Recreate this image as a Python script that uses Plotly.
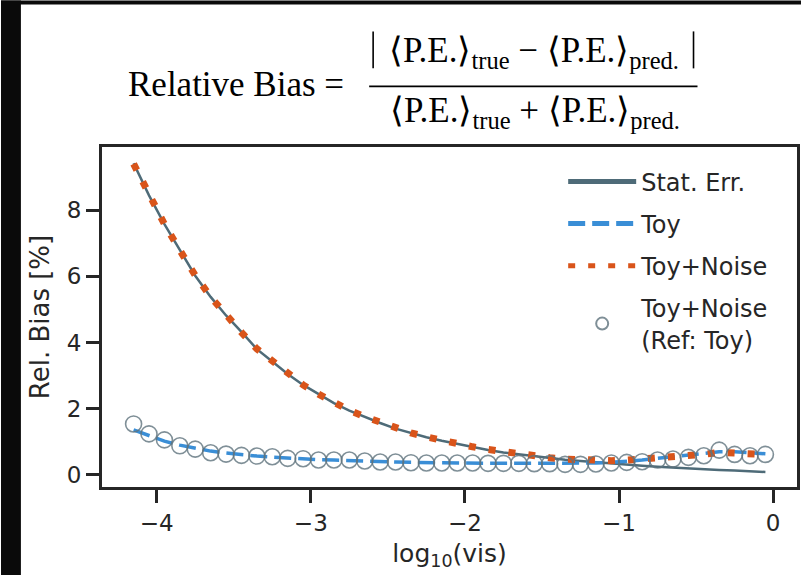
import plotly.graph_objects as go

# log10(visibility) grid shared by all series
log_vis = [-4.15, -4.05, -3.95, -3.85, -3.75, -3.65, -3.55, -3.45, -3.35, -3.25,
           -3.15, -3.05, -2.95, -2.85, -2.75, -2.65, -2.55, -2.45, -2.35, -2.25,
           -2.15, -2.05, -1.95, -1.85, -1.75, -1.65, -1.55, -1.45, -1.35, -1.25,
           -1.15, -1.05, -0.95, -0.85, -0.75, -0.65, -0.55, -0.45, -0.35, -0.25,
           -0.15, -0.05]

# relative bias in percent
stat_err = [9.42, 8.45, 7.58, 6.78, 6.02, 5.38, 4.82, 4.32, 3.80, 3.43,
            3.05, 2.72, 2.44, 2.17, 1.94, 1.75, 1.57, 1.40, 1.26, 1.14,
            1.03, 0.93, 0.84, 0.75, 0.68, 0.62, 0.56, 0.51, 0.46, 0.42,
            0.38, 0.34, 0.31, 0.28, 0.25, 0.22, 0.20, 0.17, 0.15, 0.13,
            0.11, 0.09]

toy = [1.36, 1.18, 1.02, 0.90, 0.80, 0.72, 0.66, 0.61, 0.57, 0.54,
       0.51, 0.48, 0.46, 0.45, 0.43, 0.42, 0.40, 0.39, 0.38, 0.37,
       0.37, 0.36, 0.36, 0.35, 0.35, 0.35, 0.34, 0.34, 0.34, 0.35,
       0.36, 0.38, 0.41, 0.45, 0.50, 0.55, 0.60, 0.65, 0.70, 0.70,
       0.66, 0.64]

toy_noise = [9.40, 8.44, 7.58, 6.79, 6.03, 5.38, 4.81, 4.31, 3.81, 3.43,
             3.06, 2.72, 2.44, 2.18, 1.95, 1.76, 1.58, 1.41, 1.27, 1.15,
             1.04, 0.94, 0.85, 0.77, 0.70, 0.64, 0.57, 0.52, 0.48, 0.45,
             0.43, 0.43, 0.45, 0.48, 0.50, 0.53, 0.57, 0.62, 0.68, 0.65,
             0.60, 0.62]

toy_noise_ref_toy = [1.54, 1.24, 1.06, 0.88, 0.78, 0.67, 0.63, 0.59, 0.57, 0.55,
                     0.50, 0.49, 0.45, 0.45, 0.45, 0.42, 0.39, 0.39, 0.37, 0.36,
                     0.36, 0.36, 0.36, 0.35, 0.35, 0.35, 0.34, 0.34, 0.32, 0.32,
                     0.33, 0.36, 0.38, 0.40, 0.45, 0.48, 0.53, 0.58, 0.75, 0.62,
                     0.58, 0.62]

W, H = 804, 575
L, R, T, B = 101.5, 4, 146.7, 88
PW, PH = W - L - R, H - T - B


def px(x):
    return (x - L) / PW


def py(y):
    return (H - B - y) / PH


INK = "#262626"
CIRCLE = "rgba(95,115,125,0.8)"
fig = go.Figure()

fig.add_trace(go.Scatter(
    x=log_vis, y=stat_err, mode="lines", name="Stat. Err.",
    line=dict(color="#4e6b78", width=2.5), legendgroup="a"))
fig.add_trace(go.Scatter(
    x=log_vis, y=toy, mode="lines", name="Toy",
    line=dict(color="#3a8ed6", width=3.5, dash="17px,7px"), legendgroup="b"))
fig.add_trace(go.Scatter(
    x=log_vis, y=toy_noise, mode="lines", name="Toy+Noise",
    line=dict(color="#d9541a", width=7, dash="7px,13px"), legendgroup="c"))
fig.add_trace(go.Scatter(
    x=log_vis, y=toy_noise_ref_toy, mode="markers", name="Toy+Noise<br>(Ref: Toy)",
    marker=dict(symbol="circle-open", size=16, color=CIRCLE,
                line=dict(color=CIRCLE, width=1.6)),
    legendgroup="d"))

axis_common = dict(
    showline=True, mirror=True, linewidth=3, linecolor=INK,
    ticks="outside", ticklen=13, tickwidth=3, tickcolor=INK,
    showgrid=False, zeroline=False,
    tickfont=dict(family="DejaVu Sans", size=23, color=INK),
)

fig.update_xaxes(range=[-4.355, 0.155], tickvals=[-4, -3, -2, -1, 0],
                 title=dict(text="log<sub>10</sub>(vis)",
                            font=dict(family="DejaVu Sans", size=25, color=INK),
                            standoff=10),
                 **axis_common)
fig.update_yaxes(range=[-0.365, 9.91], tickvals=[0, 2, 4, 6, 8],
                 title=dict(text="Rel. Bias [%]",
                            font=dict(family="DejaVu Sans", size=26, color=INK),
                            standoff=10),
                 **axis_common)

serif = dict(family="Liberation Serif", size=35, color="black")
annotations = [
    dict(text="Relative Bias =", x=px(347), y=py(84), xanchor="right", yanchor="middle",
         font=serif),
    dict(text="⟨P.E.⟩<sub>true</sub> − ⟨P.E.⟩<sub>pred.</sub>", x=px(536), y=py(52),
         xanchor="center", yanchor="middle", font=serif),
    dict(text="⟨P.E.⟩<sub>true</sub> + ⟨P.E.⟩<sub>pred.</sub>", x=px(537), y=py(112),
         xanchor="center", yanchor="middle", font=serif),
]
for a in annotations:
    a.update(xref="paper", yref="paper", showarrow=False)

shapes = [
    # fraction bar and absolute-value bars
    dict(type="line", x0=px(370), x1=px(700), y0=py(86), y1=py(86),
         line=dict(color="black", width=1.6)),
    dict(type="line", x0=px(374), x1=px(374), y0=py(31), y1=py(68),
         line=dict(color="black", width=1.6)),
    dict(type="line", x0=px(696), x1=px(696), y0=py(31), y1=py(68),
         line=dict(color="black", width=1.6)),
    # dark frame around the page
    dict(type="rect", x0=px(0), x1=px(20), y0=py(0), y1=py(H),
         fillcolor="#0a0a0a", line=dict(width=0)),
    dict(type="rect", x0=px(0), x1=px(W), y0=py(0), y1=py(4),
         fillcolor="#0a0a0a", line=dict(width=0)),
]
for s in shapes:
    s.update(xref="paper", yref="paper")

fig.update_layout(
    width=W, height=H,
    margin=dict(l=L, r=R, t=T, b=B),
    paper_bgcolor="white", plot_bgcolor="white",
    annotations=annotations, shapes=shapes,
    legend=dict(x=px(565), y=py(159), xanchor="left", yanchor="top",
                bgcolor="rgba(0,0,0,0)", tracegroupgap=8, itemwidth=68,
                itemsizing="constant",
                font=dict(family="DejaVu Sans", size=24, color=INK)),
)

fig.write_html("out.html")
